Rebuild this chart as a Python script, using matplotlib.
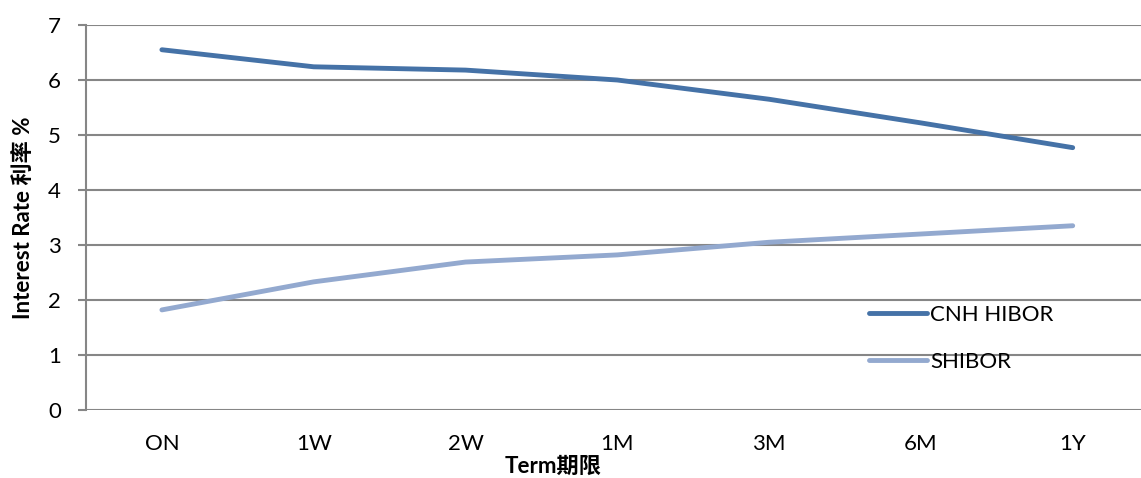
import matplotlib.pyplot as plt
import numpy as np

terms = ["ON", "1W", "2W", "1M", "3M", "6M", "1Y"]
cnh_hibor = [6.55, 6.24, 6.18, 6.00, 5.65, 5.22, 4.77]
shibor = [1.82, 2.33, 2.69, 2.82, 3.05, 3.20, 3.35]

plt.rcParams['font.family'] = ['Lato', 'Noto Sans CJK SC', 'DejaVu Sans']

W, H = 1141, 478
fig = plt.figure(figsize=(W / 100, H / 100), dpi=100)
# plot area in pixels: left 86, right ~1149 (clipped by figure), top 25, bottom 410
ax = fig.add_axes([86 / W, 1 - 410 / H, (1148.6 - 86) / W, (410 - 25) / H])

x = np.arange(len(terms))
ax.plot(x, cnh_hibor, color='#4572A7', linewidth=3.5, solid_capstyle='round', label='CNH HIBOR')
ax.plot(x, shibor, color='#93A9CF', linewidth=3.5, solid_capstyle='round', label='SHIBOR')

ax.set_xlim(-0.5, len(terms) - 0.5)
ax.set_ylim(0, 7)
ax.set_yticks(range(0, 8))
ax.set_xticks(x)
ax.set_xticklabels(terms)

ax.grid(axis='y', color='#868686', linewidth=1.5)
ax.set_axisbelow(True)
for s in ['top', 'right', 'bottom']:
    ax.spines[s].set_visible(False)
ax.spines['left'].set_color('#868686')
ax.spines['left'].set_linewidth(1.5)

ax.tick_params(axis='y', length=6, width=1.5, color='#868686', pad=12, labelsize=16)
ax.tick_params(axis='x', length=0, pad=17, labelsize=16)

ax.set_ylabel('Interest Rate 利率 %', fontsize=16, fontweight='bold', labelpad=10)
fig.text(553 / W, 1 - 466 / H, 'Term期限', fontsize=16, fontweight='bold',
         ha='center', va='center')

ax.legend(loc='upper left', bbox_to_anchor=((860 - 86) / (1148.6 - 86), (410 - 296) / 385),
          frameon=False, fontsize=16, handlelength=2.6, handletextpad=0.15,
          labelspacing=1.2, borderaxespad=0)

fig.savefig('out.png', dpi=100)
